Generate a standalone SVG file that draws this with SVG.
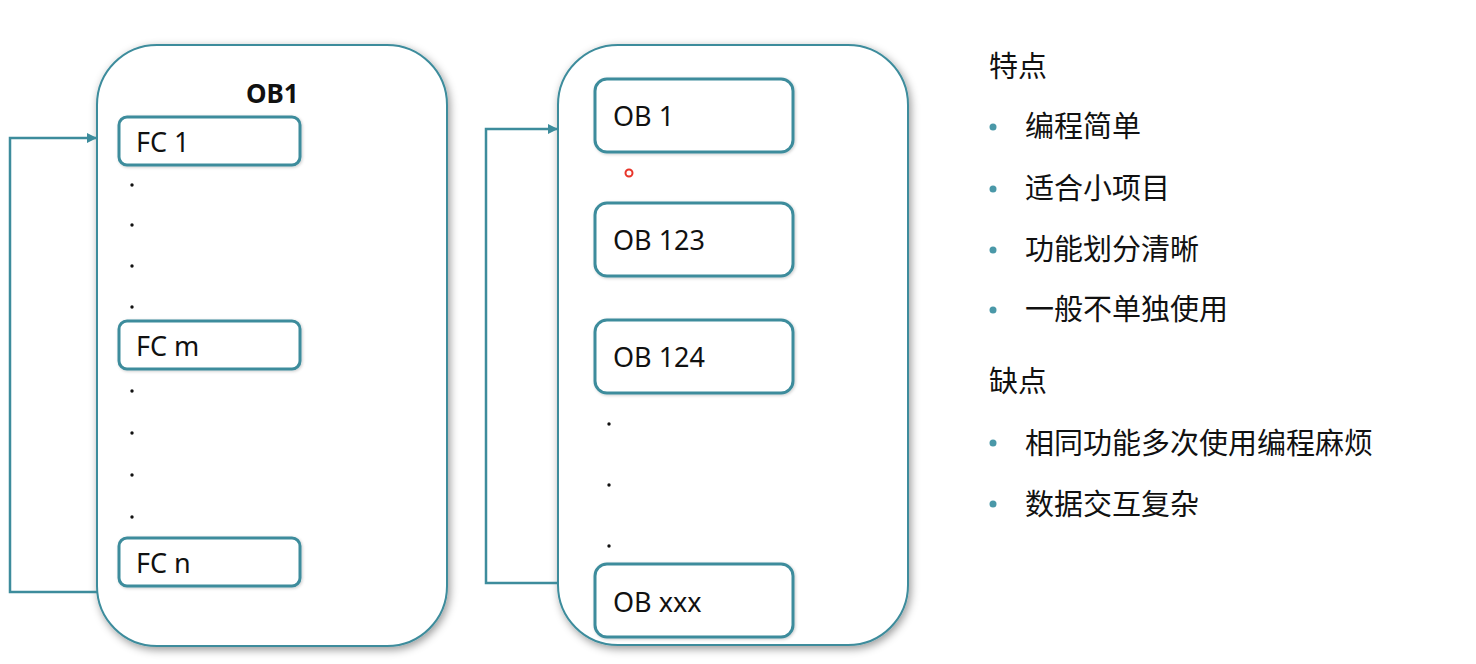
<svg xmlns="http://www.w3.org/2000/svg" width="1476" height="664" viewBox="0 0 1476 664">
<defs>
<filter id="sh" x="-10%" y="-10%" width="120%" height="120%">
<feDropShadow dx="2" dy="3" stdDeviation="4" flood-color="#000" flood-opacity="0.4"/>
</filter>
<filter id="sh2" x="-10%" y="-20%" width="120%" height="140%">
<feDropShadow dx="1" dy="1" stdDeviation="1.5" flood-color="#000" flood-opacity="0.2"/>
</filter>
<marker id="ar" viewBox="0 0 10 10" refX="10" refY="5" markerWidth="10" markerHeight="10" markerUnits="userSpaceOnUse" orient="auto">
<path d="M0,0 L10,5 L0,10 z" fill="#3d8c9c"/>
</marker>
</defs>
<style>
.big{fill:#fff;stroke:#3d8c9c;stroke-width:2}
.sm{fill:#fff;stroke:#3d8c9c;stroke-width:3}
.lbl{font-family:"Noto Sans","Open Sans",sans-serif;font-size:27px;fill:#111}
.cj{font-family:"Noto Sans CJK SC",sans-serif;font-size:29px;fill:#111}
.dot{fill:#111}
.bul{fill:#4a98a8}
.con{fill:none;stroke:#3d8c9c;stroke-width:2.5}
</style>
<rect width="1476" height="664" fill="#fff"/>
<g id="left-container">
<rect class="big" x="97" y="45" width="350" height="601" rx="60" filter="url(#sh)"/>
<text class="lbl" x="246" y="103" style="font-weight:bold;font-size:26px">OB1</text>
</g>
<g id="fc1"><rect class="sm" x="119" y="117" width="181" height="48" rx="8" filter="url(#sh2)"/><text class="lbl" x="136" y="152">FC 1</text></g>
<g id="fcm"><rect class="sm" x="119" y="321" width="181" height="48" rx="8" filter="url(#sh2)"/><text class="lbl" x="136" y="356">FC m</text></g>
<g id="fcn"><rect class="sm" x="119" y="538" width="181" height="48" rx="8" filter="url(#sh2)"/><text class="lbl" x="136" y="573">FC n</text></g>
<g id="left-dots">
<circle class="dot" cx="132" cy="185" r="1.7"/><circle class="dot" cx="132" cy="225" r="1.7"/><circle class="dot" cx="132" cy="266" r="1.7"/><circle class="dot" cx="132" cy="307" r="1.7"/>
<circle class="dot" cx="132" cy="391" r="1.7"/><circle class="dot" cx="132" cy="433" r="1.7"/><circle class="dot" cx="132" cy="475" r="1.7"/><circle class="dot" cx="132" cy="517" r="1.7"/>
</g>
<g id="right-container">
<rect class="big" x="558" y="45" width="350" height="600" rx="60" filter="url(#sh)"/>
</g>
<g id="ob1"><rect class="sm" x="595" y="79" width="198" height="73" rx="12" filter="url(#sh2)"/><text class="lbl" x="613" y="126">OB 1</text></g>
<g id="ob123"><rect class="sm" x="595" y="203" width="198" height="73" rx="12" filter="url(#sh2)"/><text class="lbl" x="613" y="250">OB 123</text></g>
<g id="ob124"><rect class="sm" x="595" y="320" width="198" height="73" rx="12" filter="url(#sh2)"/><text class="lbl" x="613" y="367">OB 124</text></g>
<g id="obxxx"><rect class="sm" x="595" y="564" width="198" height="73" rx="12" filter="url(#sh2)"/><text class="lbl" x="613" y="612">OB xxx</text></g>
<g id="right-dots">
<circle class="dot" cx="609" cy="424" r="1.7"/><circle class="dot" cx="609" cy="485" r="1.7"/><circle class="dot" cx="609" cy="546" r="1.7"/>
</g>
<circle cx="629" cy="173" r="3.5" fill="#fff" stroke="#e8352a" stroke-width="2"/>
<g id="connectors">
<path class="con" d="M97,592 H10 V138 H97" marker-end="url(#ar)"/>
<path class="con" d="M558,583 H486 V129 H558" marker-end="url(#ar)"/>
</g>
<g id="text-panel">
<text class="cj" x="989" y="77">特点</text>
<circle class="bul" cx="993" cy="127" r="3.5"/><text class="cj" x="1025" y="137">编程简单</text>
<circle class="bul" cx="993" cy="189" r="3.5"/><text class="cj" x="1025" y="199">适合小项目</text>
<circle class="bul" cx="993" cy="250" r="3.5"/><text class="cj" x="1025" y="260">功能划分清晰</text>
<circle class="bul" cx="993" cy="310" r="3.5"/><text class="cj" x="1025" y="320">一般不单独使用</text>
<text class="cj" x="989" y="392">缺点</text>
<circle class="bul" cx="993" cy="443" r="3.5"/><text class="cj" x="1025" y="454">相同功能多次使用编程麻烦</text>
<circle class="bul" cx="993" cy="504" r="3.5"/><text class="cj" x="1025" y="515">数据交互复杂</text>
</g>
</svg>
